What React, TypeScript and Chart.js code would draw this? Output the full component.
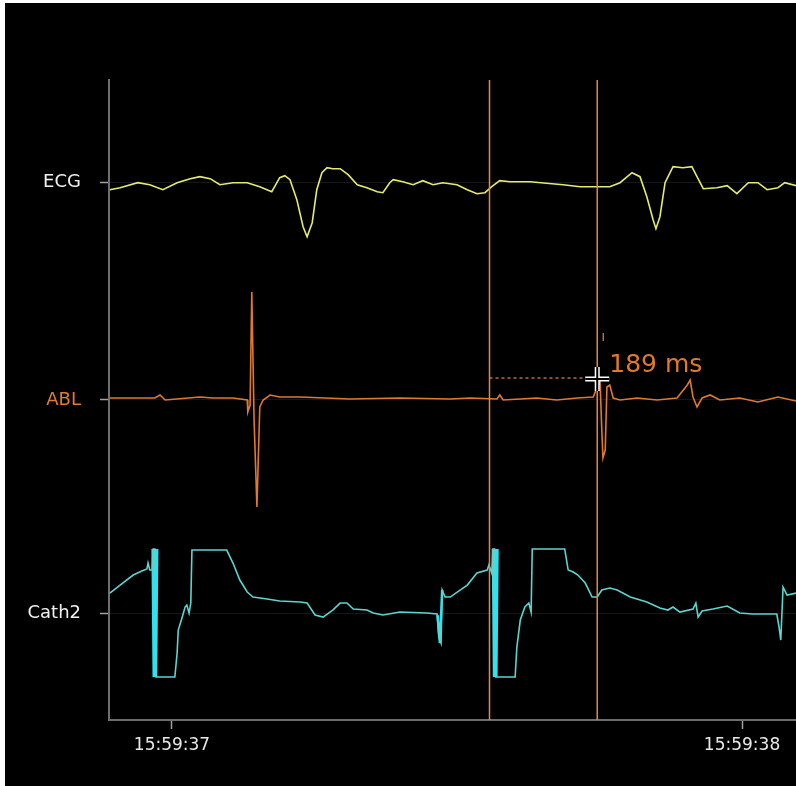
import React, { useEffect, useRef } from 'react';
import { Chart, registerables } from 'chart.js';

Chart.register(...registerables);

// ---- Channels / axes ----
const CHANNELS = ['ECG', 'ABL', 'Cath2'];
const CHANNEL_OFFSETS = [2.02, 1, 0];
const LABEL_COLORS = ['#f0f0f0', '#e07a2c', '#f0f0f0'];
const TRACE_COLORS = ['#e6ea70', '#e0782e', '#5cd4cf'];
const PACING_COLOR = '#28e4f4';
const MV_TO_LANE = 100 / 213;

const X_TICK_VALUES = [1000, 2000];
const X_TICK_LABELS = ['15:59:37', '15:59:38'];
const X_MIN = 889.5;
const X_MAX = 2094.7;
const Y_MIN = -0.502;
const Y_MAX = 2.502;

// ---- Measurement cursors (ms) ----
const CURSOR_A_MS = 1557;
const CURSOR_B_MS = 1746;
const MEASURE_LABEL = '189 ms';

// ---- ECG ----
const ecgTime = [891, 909, 940, 961, 984, 1009, 1032, 1049, 1067, 1084, 1107, 1132, 1154, 1175, 1189, 1198, 1207, 1219, 1230, 1237, 1246, 1254, 1263, 1272, 1282, 1295, 1309, 1325, 1342, 1360, 1370, 1382, 1388, 1405, 1423, 1440, 1458, 1475, 1500, 1518, 1535, 1549, 1561, 1575, 1593, 1628, 1686, 1716, 1768, 1786, 1807, 1821, 1833, 1844, 1849, 1856, 1865, 1879, 1896, 1912, 1921, 1932, 1956, 1974, 1991, 2011, 2028, 2044, 2063, 2075, 2095];
const ecgMv = [-0.07, -0.05, 0.0, -0.02, -0.07, 0.0, 0.04, 0.06, 0.04, -0.02, 0.0, 0.0, -0.04, -0.09, 0.05, 0.07, 0.03, -0.17, -0.44, -0.54, -0.4, -0.07, 0.1, 0.15, 0.14, 0.14, 0.08, -0.02, -0.05, -0.09, -0.1, 0.0, 0.03, 0.01, -0.02, 0.02, -0.02, 0.0, -0.02, -0.07, -0.11, -0.1, -0.04, 0.02, 0.01, 0.01, -0.02, -0.04, -0.04, 0.0, 0.1, 0.06, -0.14, -0.37, -0.46, -0.34, 0.0, 0.16, 0.15, 0.16, 0.06, -0.06, -0.05, -0.03, -0.11, 0.0, 0.0, -0.07, -0.05, 0.0, -0.03];

// ---- ABL ----
const ablTime = [891, 970, 979, 988, 1049, 1072, 1107, 1132, 1133, 1137, 1140, 1144, 1149, 1154, 1160, 1172, 1189, 1225, 1312, 1400, 1488, 1523, 1570, 1575, 1581, 1611, 1640, 1675, 1711, 1739, 1746, 1751, 1754, 1756, 1760, 1763, 1768, 1774, 1786, 1816, 1851, 1886, 1904, 1909, 1914, 1921, 1930, 1944, 1961, 1996, 2028, 2063, 2095];
const ablMv = [0.02, 0.02, 0.05, 0.0, 0.03, 0.02, 0.02, 0.0, -0.12, -0.05, 1.08, -0.2, -1.07, -0.07, 0.0, 0.05, 0.03, 0.03, 0.01, 0.02, 0.01, 0.02, 0.01, 0.05, 0.0, 0.01, 0.02, 0.0, 0.02, 0.03, 0.13, 0.18, -0.3, -0.58, -0.5, 0.13, 0.15, 0.02, 0.0, 0.02, 0.0, 0.02, 0.15, 0.2, 0.03, -0.07, 0.02, 0.05, 0.0, 0.02, -0.02, 0.03, -0.01];

// ---- Cath2 ----
const cathTime = [891, 909, 932, 947, 956, 958, 961, 965, 967, 970, 972, 975, 1005, 1009, 1011, 1018, 1023, 1026, 1030, 1033, 1035, 1096, 1107, 1119, 1132, 1142, 1167, 1189, 1225, 1237, 1251, 1265, 1282, 1295, 1307, 1318, 1342, 1353, 1370, 1400, 1447, 1465, 1468, 1472, 1474, 1479, 1488, 1518, 1535, 1553, 1556, 1561, 1563, 1566, 1568, 1572, 1602, 1605, 1611, 1619, 1626, 1630, 1632, 1689, 1695, 1704, 1712, 1725, 1737, 1746, 1754, 1768, 1781, 1804, 1833, 1856, 1870, 1879, 1891, 1914, 1919, 1923, 1930, 1949, 1974, 1996, 2019, 2061, 2065, 2068, 2072, 2079, 2095];
const cathMv = [0.2, 0.28, 0.38, 0.42, 0.44, 0.5, 0.43, 0.43, 0.64, 0.64, -0.64, -0.64, -0.64, -0.4, -0.17, -0.04, 0.06, 0.08, 0.0, 0.1, 0.63, 0.63, 0.5, 0.33, 0.21, 0.16, 0.14, 0.12, 0.11, 0.1, -0.02, -0.04, 0.03, 0.1, 0.1, 0.04, 0.03, 0.0, -0.02, 0.01, 0.0, -0.01, -0.24, -0.3, 0.23, 0.16, 0.16, 0.28, 0.4, 0.43, 0.48, 0.4, 0.64, 0.64, -0.64, -0.64, -0.64, -0.34, -0.07, 0.06, 0.1, 0.01, 0.64, 0.64, 0.43, 0.41, 0.38, 0.3, 0.16, 0.16, 0.23, 0.25, 0.23, 0.16, 0.11, 0.05, 0.03, 0.06, 0.01, 0.04, 0.1, -0.04, 0.02, 0.04, 0.07, 0.0, -0.01, -0.01, -0.14, -0.27, 0.26, 0.18, 0.2];

// ---- Cath2 pacing artefacts (bright, thick) ----
const pacingTime = [966, 968, 970, 972, 974, null, 1563, 1565, 1567, 1569, 1571, null, 1466, 1470, 1474, null, 2064, 2068, 2072];
const pacingMv = [0.64, -0.64, 0.64, -0.64, 0.64, null, 0.64, -0.64, 0.64, -0.64, 0.64, null, -0.02, -0.3, 0.23, null, -0.02, -0.27, 0.26];

const toPoints = (t: (number | null)[], mv: (number | null)[], offset: number) =>
  t.map((tt, i) => ({ x: tt ?? NaN, y: tt === null || mv[i] === null ? null : offset + (mv[i] as number) * MV_TO_LANE }));

const measurePlugin = {
  id: 'measure',
  afterDatasetsDraw(chart: any) {
    const { ctx, chartArea: a, scales } = chart;
    const xs = scales.x;
    const ys = scales.y;
    const xa = xs.getPixelForValue(CURSOR_A_MS);
    const xb = xs.getPixelForValue(CURSOR_B_MS);
    const yAbl = ys.getPixelForValue(CHANNEL_OFFSETS[1]);
    ctx.save();
    ctx.strokeStyle = '#e8844e';
    ctx.lineWidth = 1.5;
    [xa, xb].forEach((px: number) => {
      ctx.beginPath();
      ctx.moveTo(px, a.top);
      ctx.lineTo(px, a.bottom);
      ctx.stroke();
    });
    const ym = yAbl - 22;
    ctx.setLineDash([3, 3]);
    ctx.lineWidth = 1.2;
    ctx.beginPath();
    ctx.moveTo(xa, ym);
    ctx.lineTo(xb - 8, ym);
    ctx.stroke();
    ctx.setLineDash([]);
    ctx.beginPath();
    ctx.moveTo(xb + 6, yAbl - 67);
    ctx.lineTo(xb + 6, yAbl - 59);
    ctx.stroke();
    ctx.fillStyle = '#e07a2a';
    ctx.font = '25px "DejaVu Sans"';
    ctx.textBaseline = 'alphabetic';
    ctx.textAlign = 'left';
    ctx.fillText(MEASURE_LABEL, xb + 12, yAbl - 28);
    const cy = yAbl - 21;
    const drawCross = () => {
      ctx.beginPath();
      ctx.moveTo(xb - 12, cy);
      ctx.lineTo(xb + 12, cy);
      ctx.moveTo(xb, cy - 12);
      ctx.lineTo(xb, cy + 12);
      ctx.stroke();
    };
    ctx.strokeStyle = '#ffffff';
    ctx.lineWidth = 5;
    drawCross();
    ctx.strokeStyle = '#000000';
    ctx.lineWidth = 2;
    drawCross();
    ctx.restore();
  },
};

export default function App() {
  const canvasRef = useRef<HTMLCanvasElement | null>(null);

  useEffect(() => {
    if (!canvasRef.current) return;
    const datasets: any[] = [
      { label: 'ECG', data: toPoints(ecgTime, ecgMv, CHANNEL_OFFSETS[0]), borderColor: TRACE_COLORS[0], borderWidth: 1.6 },
      { label: 'ABL', data: toPoints(ablTime, ablMv, CHANNEL_OFFSETS[1]), borderColor: TRACE_COLORS[1], borderWidth: 1.6 },
      { label: 'Cath2', data: toPoints(cathTime, cathMv, CHANNEL_OFFSETS[2]), borderColor: TRACE_COLORS[2], borderWidth: 1.6 },
      { label: 'Cath2 pacing', data: toPoints(pacingTime, pacingMv, CHANNEL_OFFSETS[2]), borderColor: PACING_COLOR, borderWidth: 2.5, spanGaps: false },
    ].map((d) => ({ ...d, pointRadius: 0, tension: 0, fill: false }));

    const chart = new Chart(canvasRef.current, {
      type: 'line',
      data: { datasets },
      options: {
        animation: false,
        responsive: false,
        parsing: false as any,
        layout: { padding: { top: 77, left: 0, right: 0, bottom: 0 } },
        plugins: { legend: { display: false }, tooltip: { enabled: false } },
        scales: {
          x: {
            type: 'linear',
            min: X_MIN,
            max: X_MAX,
            afterBuildTicks: (s: any) => {
              s.ticks = X_TICK_VALUES.map((v) => ({ value: v }));
            },
            afterFit: (s: any) => {
              s.height = 66;
            },
            ticks: {
              callback: (_v: any, i: number) => X_TICK_LABELS[i],
              color: '#e8e8e8',
              font: { family: 'DejaVu Sans', size: 17 },
              padding: 6,
              maxRotation: 0,
              autoSkip: false,
            },
            grid: { drawOnChartArea: false, drawTicks: true, tickLength: 9, tickColor: '#a0a0a0', tickWidth: 1.5 },
            border: { color: '#6e6e6e', width: 2 },
          },
          y: {
            type: 'linear',
            min: Y_MIN,
            max: Y_MAX,
            afterBuildTicks: (s: any) => {
              s.ticks = CHANNEL_OFFSETS.map((v) => ({ value: v }));
            },
            afterFit: (s: any) => {
              s.width = 104;
            },
            ticks: {
              callback: (_v: any, i: number) => CHANNELS[i],
              color: (c: any) => LABEL_COLORS[c.index] || '#f0f0f0',
              font: { family: 'DejaVu Sans', size: 18 },
              padding: 19,
              autoSkip: false,
            },
            grid: { color: 'rgba(255,255,255,0.09)', lineWidth: 1, tickLength: 9, tickColor: '#a0a0a0', tickWidth: 1.5 },
            border: { color: '#6e6e6e', width: 2 },
          },
        },
      },
      plugins: [measurePlugin],
    } as any);
    return () => chart.destroy();
  }, []);

  return (
    <div style={{ position: 'absolute', left: 5, top: 3, width: 791, height: 783, background: '#000', overflow: 'hidden' }}>
      <canvas ref={canvasRef} width={791} height={783} style={{ display: 'block' }} />
    </div>
  );
}
